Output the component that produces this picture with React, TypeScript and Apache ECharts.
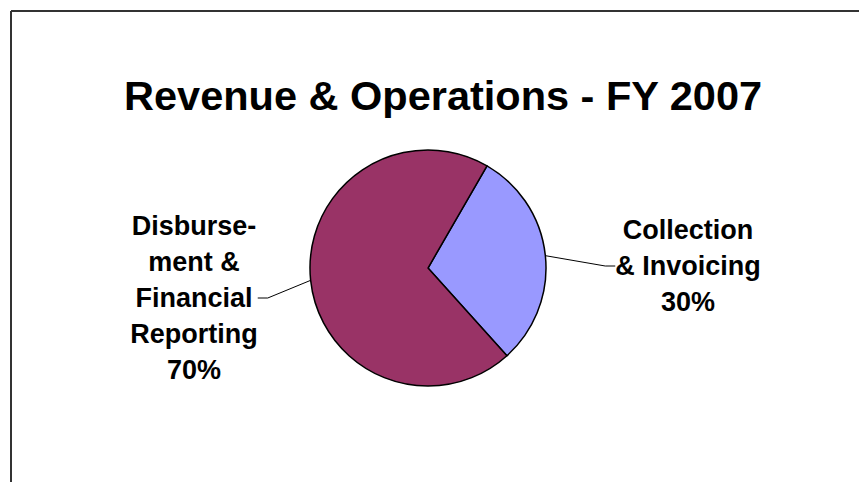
import React, { useEffect, useRef } from "react";
import * as echarts from "echarts";

const titleText = "Revenue & Operations - FY 2007";
const categories = ["Collection\n& Invoicing", "Disburse-\nment &\nFinancial\nReporting"];
const values = [30, 70];
const colors = ["#9999FF", "#993366"];

export default function App() {
  const ref = useRef<HTMLDivElement>(null);
  useEffect(() => {
    if (!ref.current) return;
    const chart = echarts.init(ref.current, null, { renderer: "svg" });
    const font = "'Liberation Sans', Arial, sans-serif";
    chart.setOption({
      animation: false,
      backgroundColor: "#ffffff",
      title: {
        text: titleText,
        left: 119,
        top: 69,
        textStyle: { fontFamily: font, fontSize: 41.5, fontWeight: "bold", color: "#000" },
      },
      graphic: [
        { type: "line", shape: { x1: 11, y1: 11, x2: 859, y2: 11 }, style: { stroke: "#333333", lineWidth: 2 } },
        { type: "line", shape: { x1: 11, y1: 11, x2: 11, y2: 482 }, style: { stroke: "#333333", lineWidth: 2 } },
      ],
      series: [
        {
          type: "pie",
          center: [428, 268],
          radius: 118,
          startAngle: 60,
          clockwise: true,
          data: categories.map((c, i) => ({ name: c, value: values[i], itemStyle: { color: colors[i] } })),
          itemStyle: { borderColor: "#000", borderWidth: 1.5 },
          label: {
            show: true,
            formatter: "{b}\n{d}%",
            fontFamily: font,
            fontSize: 27,
            fontWeight: "bold",
            lineHeight: 36,
            color: "#000",
            align: "center",
          },
          labelLine: { show: true, length: 20, length2: 10, lineStyle: { color: "#000", width: 1 } },
          labelLayout: (p: any) =>
            p.dataIndex === 0
              ? { x: 688, y: 266, align: "center", verticalAlign: "middle" }
              : { x: 194, y: 298, align: "center", verticalAlign: "middle" },
          emphasis: { disabled: true },
        },
      ],
    });
    return () => chart.dispose();
  }, []);
  return <div ref={ref} style={{ position: "fixed", left: 0, top: 0, width: 859, height: 482 }} />;
}
